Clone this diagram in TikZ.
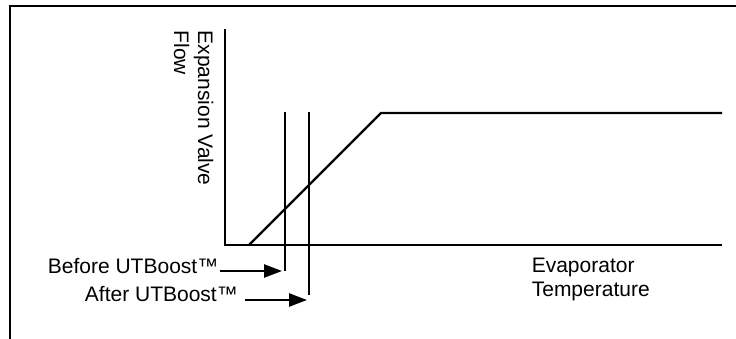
\documentclass[tikz,border=0pt]{standalone}
\usepackage{fontspec}
\setmainfont{Liberation Sans}
\usetikzlibrary{arrows.meta}
\tikzset{
  ln/.style={line width=2.4pt, line cap=butt, line join=miter},
  frame/.style={line width=2.4pt},
  lbl/.style={inner sep=0pt, font=\fontsize{21}{24}\selectfont},
  arr/.style={line width=2.4pt, -{Triangle[length=18pt,width=13pt]}}
}
\begin{document}
\begin{tikzpicture}[x=1pt,y=-1pt]
  \useasboundingbox (0,0) rectangle (736,339);
  % frame
  \coordinate (fbl) at (10,339);
  \coordinate (ftl) at (10,6);
  \coordinate (ftr) at (736,6);
  \draw[frame] (fbl) -- (ftl) -- (ftr);
  % axes
  \coordinate (ytop) at (225,29.5);
  \coordinate (orig) at (225,245);
  \coordinate (xend) at (722,245);
  \draw[ln] (ytop) -- (orig) -- (xend);
  % curve
  \coordinate (c0) at (249,245);
  \coordinate (c1) at (381,113);
  \coordinate (c2) at (722,113);
  \draw[ln] (c0) -- (c1) -- (c2);
  % vertical markers
  \coordinate (b1) at (285,112);
  \coordinate (b2) at (285,271);
  \coordinate (a1) at (309,112);
  \coordinate (a2) at (309,295);
  \draw[ln] (b1) -- (b2);
  \draw[ln] (a1) -- (a2);
  % labels
  \node[lbl, rotate=-90, anchor=north west, align=left] (ylab) at (213.5,30.5) {Expansion Valve\\Flow};
  \node[lbl, anchor=north west, align=left] (xlab) at (531.6,258.3) {Evaporator\\Temperature};
  \node[lbl, anchor=base east] (before) at (218.5,273.3) {Before UTBoost™};
  \node[lbl, anchor=base east] (after) at (238,301.7) {After UTBoost™};
  % arrows
  \coordinate (bt) at (282,271);
  \coordinate (at) at (307,300);
  \draw[arr] ([xshift=1pt]before.east |- bt) -- (bt);
  \draw[arr] ([xshift=7pt]after.east |- at) -- (at);
\end{tikzpicture}
\end{document}
